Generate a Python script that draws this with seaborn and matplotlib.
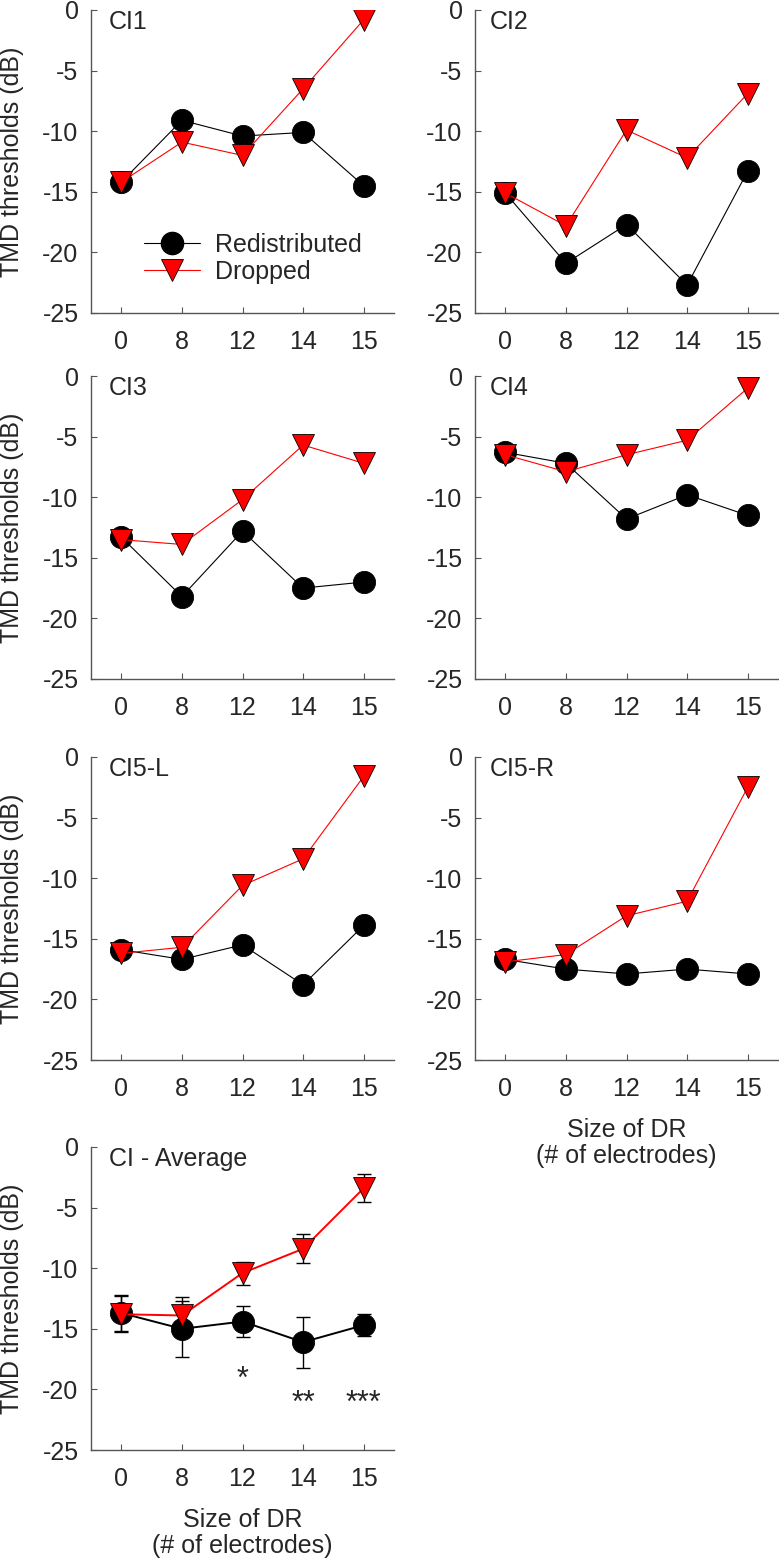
import numpy as np
import pandas as pd
import matplotlib
matplotlib.use("Agg")
import matplotlib.pyplot as plt
from matplotlib.lines import Line2D
import seaborn as sns

sizes = ["0", "8", "12", "14", "15"]

ci1_red = [-14.2, -9.1, -10.4, -10.1, -14.5]
ci1_drop = [-14.2, -10.9, -12.0, -6.5, -0.8]
ci2_red = [-15.1, -20.9, -17.7, -22.7, -13.3]
ci2_drop = [-15.1, -17.8, -9.9, -12.2, -6.9]
ci3_red = [-13.3, -18.2, -12.8, -17.5, -17.0]
ci3_drop = [-13.5, -13.9, -10.2, -5.7, -7.2]
ci4_red = [-6.3, -7.2, -11.8, -9.8, -11.5]
ci4_drop = [-6.5, -7.9, -6.5, -5.3, -1.0]
ci5l_red = [-15.9, -16.7, -15.5, -18.8, -13.9]
ci5l_drop = [-16.2, -15.7, -10.6, -8.4, -1.6]
ci5r_red = [-16.7, -17.5, -17.9, -17.5, -17.9]
ci5r_drop = [-16.9, -16.3, -13.1, -11.9, -2.5]
avg_red = [-13.7, -15.0, -14.4, -16.1, -14.7]
avg_drop = [-13.8, -13.9, -10.4, -8.4, -3.4]
avg_red_err = [1.5, 2.3, 1.3, 2.1, 0.9]
avg_drop_err = [1.5, 1.5, 0.95, 1.2, 1.15]
stars = ["", "", "*", "**", "***"]
star_y = [0, 0, -19.2, -21.2, -21.2]

panels = [
    ("CI1", ci1_red, ci1_drop),
    ("CI2", ci2_red, ci2_drop),
    ("CI3", ci3_red, ci3_drop),
    ("CI4", ci4_red, ci4_drop),
    ("CI5-L", ci5l_red, ci5l_drop),
    ("CI5-R", ci5r_red, ci5r_drop),
    ("CI - Average", avg_red, avg_drop),
]

sns.set_style("ticks")
plt.rcParams["font.family"] = ["Liberation Sans", "DejaVu Sans"]
plt.rcParams["xtick.direction"] = "in"
plt.rcParams["ytick.direction"] = "in"

W, H = 779, 1567
fig = plt.figure(figsize=(W / 100, H / 100), dpi=100)

lefts = [91, 475]
tops = [10, 376, 757, 1147]
aw, ah = 303, 303

palette = {"Redistributed": "black", "Dropped": "red"}
fs = 18
ms = 16

for i, (name, red, drop) in enumerate(panels):
    row, col = divmod(i, 2)
    ax = fig.add_axes([lefts[col] / W, 1 - (tops[row] + ah) / H, aw / W, ah / H])
    df = pd.DataFrame({
        "size": sizes * 2,
        "thr": red + drop,
        "cond": ["Redistributed"] * 5 + ["Dropped"] * 5,
    })
    lw = 1.4 if name == "CI - Average" else 0.8
    sns.pointplot(data=df, x="size", y="thr", hue="cond", order=sizes,
                  hue_order=["Redistributed", "Dropped"], palette=palette,
                  markers=["o", "v"], linestyles=["-", "-"], errorbar=None,
                  legend=False, ax=ax, markersize=ms, linewidth=lw,
                  markeredgecolor="black", markeredgewidth=0.6)
    if name == "CI - Average":
        xs = np.arange(len(sizes))
        ax.errorbar(xs, avg_red, yerr=avg_red_err, fmt="none", ecolor="black",
                    elinewidth=1, capsize=5, capthick=1, zorder=1)
        ax.errorbar(xs, avg_drop, yerr=avg_drop_err, fmt="none", ecolor="black",
                    elinewidth=1, capsize=5, capthick=1, zorder=1)
        for x, s, y in zip(xs, stars, star_y):
            if s:
                ax.text(x, y, s, ha="center", va="center", fontsize=22)

    ax.set_xlim(-0.5, 4.5)
    ax.set_ylim(-25, 0)
    ax.set_yticks([0, -5, -10, -15, -20, -25])
    ax.set_yticklabels(["0", "-5", "-10", "-15", "-20", "-25"])
    ax.tick_params(labelsize=fs, length=4, width=0.8, color="#555555")
    ax.tick_params(axis="x", pad=12)
    ax.tick_params(axis="y", pad=9)
    for sp in ["top", "right"]:
        ax.spines[sp].set_visible(False)
    for sp in ["left", "bottom"]:
        ax.spines[sp].set_color("#555555")
        ax.spines[sp].set_linewidth(1.0)

    ax.text(0.06 if col == 0 else 0.05, 1.0, name, transform=ax.transAxes,
            ha="left", va="top", fontsize=fs)

    if col == 0:
        ax.set_ylabel("TMD thresholds (dB)", fontsize=fs)
        ax.yaxis.set_label_coords(-0.22, 0.5)
    else:
        ax.set_ylabel("")
    if name in ("CI5-R", "CI - Average"):
        ax.set_xlabel("Size of DR\n(# of electrodes)", fontsize=fs, va="top",
                      linespacing=1.15)
        ax.xaxis.set_label_coords(0.5, -0.19)
    else:
        ax.set_xlabel("")

    if name == "CI1":
        handles = [
            Line2D([], [], color="black", marker="o", markersize=ms, lw=0.8,
                   markeredgecolor="black"),
            Line2D([], [], color="red", marker="v", markersize=ms, lw=0.8,
                   markeredgecolor="black", markeredgewidth=0.6),
        ]
        ax.legend(handles, ["Redistributed", "Dropped"], loc="center left",
                  bbox_to_anchor=(0.1, 0.18), frameon=False, fontsize=fs,
                  handlelength=2.25, handletextpad=0.6, labelspacing=0.1)

fig.savefig("out.png", dpi=100)
